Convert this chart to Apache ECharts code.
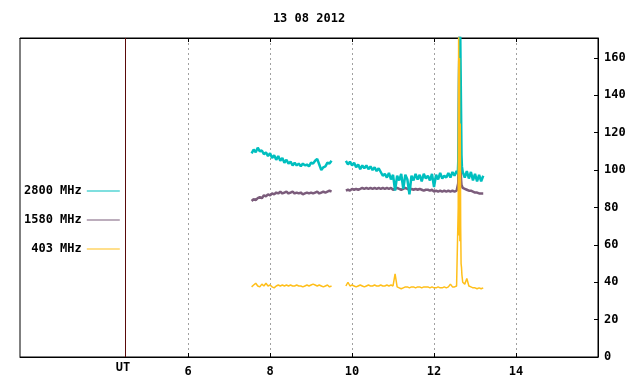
<!DOCTYPE html>
<html>
<head>
<meta charset="utf-8">
<script src="https://cdn.jsdelivr.net/npm/echarts@6/dist/echarts.min.js"></script>
<style>html,body{margin:0;padding:0;background:#fff}#c{width:640px;height:384px}</style>
</head>
<body>
<div id="c"></div>
<script>
// ---- data ----
const titleText = '13 08 2012';
const xTicks = [6, 8, 10, 12, 14];
const yTicks = [0, 20, 40, 60, 80, 100, 120, 140, 160];
const utHour = 4.46;

const hours = [
  7.55,7.60,7.65,7.70,7.75,7.80,7.85,7.90,7.95,8.00,
  8.05,8.10,8.15,8.20,8.25,8.30,8.35,8.40,8.45,8.50,
  8.55,8.60,8.65,8.70,8.75,8.80,8.85,8.90,8.95,9.00,
  9.05,9.10,9.15,9.20,9.25,9.30,9.35,9.40,9.45,9.50,
  9.70,
  9.85,9.90,9.95,10.00,10.05,10.10,10.15,10.20,10.25,10.30,
  10.35,10.40,10.45,10.50,10.55,10.60,10.65,10.70,10.75,10.80,
  10.85,10.90,10.95,11.00,11.05,11.10,11.15,11.20,11.25,11.30,
  11.35,11.40,11.45,11.50,11.55,11.60,11.65,11.70,11.75,11.80,
  11.85,11.90,11.95,12.00,12.05,12.10,12.15,12.20,12.25,12.30,
  12.35,12.40,12.45,12.50,12.55,
  12.58,12.59,12.60,12.61,12.62,12.63,12.64,12.65,12.66,12.67,12.68,
  12.70,12.75,12.80,12.85,12.90,12.95,13.00,13.05,13.10,13.15,13.20
];

const mhz2800 = [
  109,111,109.5,112,110,110.5,108.5,109.5,107.5,109,
  106.5,108,105.5,107.5,105,106.5,104,105.5,103.5,104.5,
  102.5,104,102.5,103.5,102,103.5,102.5,103,102,104,
  103.5,105,106,103,100,101.5,102,104,103.5,105,
  '-',
  105,103,104.5,102.5,104,101.5,103,100.5,102.5,101,
  102.5,100.5,102,100,101.5,99.5,101,99,97,98,
  96,98.5,95,97.5,89,97,94.5,98,90,97.5,
  95,87,97,94.5,98,95,97.5,94,98,95.5,
  97,94.5,98,91,97.5,95,98.5,95.5,97,96,
  98.5,96,99,97,99.5,
  98,104,118,150,172,165,172,172,130,108,102,
  99,96,99.5,95.5,99,94.5,98,94,97.5,94,97
];

const mhz1580 = [
  83.5,84.5,84,85,85.5,85,86.5,86,87,86.5,
  87.5,87,88,87.5,88.5,87.5,88,88.5,87.5,88,
  88.5,87.5,88,87.5,88,87,87.5,88,87.5,88,
  87.5,88,88.5,87.5,88,88.5,88,88.5,89,88.5,
  '-',
  89,89.5,89,90,89.5,90,89.5,90,90.5,90,
  90.5,90,90.5,90,90.5,90,90.5,90,90.5,90,
  90.5,90,90.5,89.5,90,90.5,90,89.5,90,90.5,
  90,89.5,90,89.5,90,89.5,90,89.5,89,89.5,
  89.5,89,89.5,88.5,89,88.5,89,88.5,89,88.5,
  89,88.5,89,88.5,89,
  89,93,110,147,172,126,110,100,95,92,91,
  90.5,90,89.5,89,89,88.5,88,88,87.5,87.5,87.5
];

const mhz403 = [
  37.5,38.5,39.5,38,37.5,39,38,39.5,38,38.5,
  37.5,37,38,38.5,38,38.5,38,38.5,38,38.5,
  38,38,38.5,38,38,37.5,38,38.5,38,38.5,
  39,38.5,38,38.5,38,37.5,38,38.5,37.5,38,
  '-',
  38,40,38,38.5,38,37.5,38,38.5,38,37.5,
  38,38.5,38,38,38.5,38,38,38.5,38,38,
  38.5,38,38.5,38,44.5,37.5,37,36.5,37,37.5,
  37.5,37,37.5,37.5,37,37.5,37.5,37,37.5,37.5,
  37.5,37,37.5,37,37,37.5,37,37,37.5,37,
  37.5,39,37.5,37.5,38,
  38,80,172,65,160,62,125,70,50,48,44,
  40,39,42,38,37.5,37,37,36.5,37,36.5,37
];

// ---- chart ----
const FONT = 'DejaVu Sans Mono';
const pairs = vals => hours.map((h, i) => [h, vals[i]]);
const txt = {fontFamily: FONT, fontSize: 12, fontWeight: 'bold', color: '#000'};
const C2800 = '#00bfbf', C1580 = '#7b5c7b', C403 = '#ffbf1a';

const chart = echarts.init(document.getElementById('c'), null, {renderer: 'canvas'});
chart.setOption({
  animation: false,
  backgroundColor: '#fff',
  title: {
    text: titleText, left: 309, top: 13, textAlign: 'center', padding: 0,
    textStyle: txt
  },
  legend: {
    orient: 'vertical', left: 24, top: 184, align: 'right', padding: 0,
    icon: 'rect', itemWidth: 33, itemHeight: 1, itemGap: 15,
    textStyle: Object.assign({lineHeight: 14}, txt),
    formatter: n => n.padStart(8, ' '),
    data: ['2800 MHz', '1580 MHz', '403 MHz']
  },
  grid: {left: 20, right: 42, top: 38, bottom: 27, show: true, borderColor: '#000', borderWidth: 1},
  xAxis: [{
    type: 'value', min: 1.9, max: 16, position: 'bottom',
    axisLine: {show: true, lineStyle: {color: '#000', width: 1}},
    axisTick: {show: true, inside: true, length: 4, customValues: xTicks, lineStyle: {color: '#000'}},
    axisLabel: {customValues: xTicks, margin: 9, ...txt},
    splitLine: {show: true, lineStyle: {color: '#a0a0a0', width: 1, type: [2, 3]}}
  }, {
    type: 'value', min: 1.9, max: 16, position: 'top',
    axisLine: {show: true, lineStyle: {color: '#000', width: 1}},
    axisTick: {show: true, inside: true, length: 4, customValues: xTicks, lineStyle: {color: '#000'}},
    axisLabel: {show: false},
    splitLine: {show: false}
  }],
  yAxis: {
    type: 'value', min: 0, max: 170.7, position: 'right',
    axisLine: {show: true, lineStyle: {color: '#000', width: 1}},
    axisTick: {show: true, inside: true, length: 4, customValues: yTicks, lineStyle: {color: '#000'}},
    axisLabel: {customValues: yTicks, margin: 6, ...txt},
    splitLine: {show: false}
  },
  graphic: [{
    type: 'text', x: 123, y: 368,
    style: {text: 'UT', align: 'center', verticalAlign: 'middle', font: 'bold 12px "' + FONT + '"', fill: '#000'}
  }],
  series: [{
    name: '1580 MHz', type: 'line', data: pairs(mhz1580), symbol: 'none', showSymbol: false,
    lineStyle: {color: C1580, width: 2.5}, itemStyle: {color: C1580}, connectNulls: false,
    markLine: {
      silent: true, symbol: 'none', label: {show: false},
      lineStyle: {color: '#5a0a0a', width: 1, type: 'solid'},
      data: [{xAxis: utHour}]
    }
  }, {
    name: '2800 MHz', type: 'line', data: pairs(mhz2800), symbol: 'none', showSymbol: false,
    lineStyle: {color: C2800, width: 2.5}, itemStyle: {color: C2800}, connectNulls: false
  }, {
    name: '403 MHz', type: 'line', data: pairs(mhz403), symbol: 'none', showSymbol: false,
    lineStyle: {color: C403, width: 1.5}, itemStyle: {color: C403}, connectNulls: false
  }]
});
</script>
</body>
</html>
